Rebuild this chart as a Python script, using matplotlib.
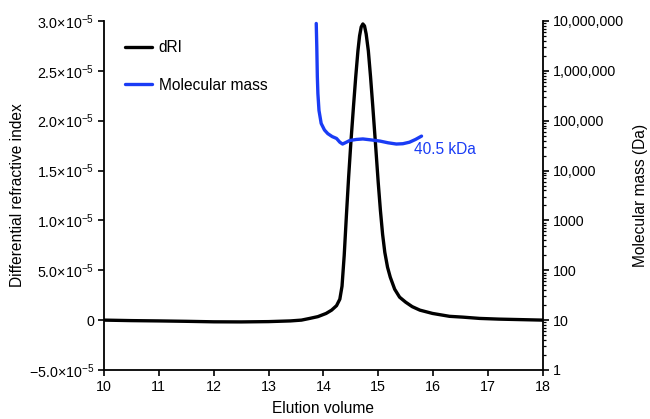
import matplotlib
matplotlib.use("Agg")
import matplotlib.pyplot as plt
from matplotlib.ticker import LogLocator, NullFormatter

plt.rcParams['font.family'] = ['Liberation Sans', 'DejaVu Sans']
plt.rcParams['mathtext.fontset'] = 'custom'
plt.rcParams['mathtext.rm'] = 'Liberation Sans'
plt.rcParams['mathtext.it'] = 'Liberation Sans'

# dRI trace (elution volume, differential refractive index)
dri_x = [10.0, 10.5, 11.0, 11.5, 12.0, 12.5, 13.0, 13.4, 13.6, 13.75, 13.9, 14.05,
         14.15, 14.24, 14.30, 14.34, 14.38, 14.42, 14.46, 14.50, 14.55, 14.59, 14.63,
         14.66, 14.69, 14.72, 14.75, 14.78, 14.82, 14.86, 14.90, 14.95, 15.00, 15.04,
         15.08, 15.12, 15.17, 15.22, 15.30, 15.39, 15.50, 15.62, 15.76, 15.99, 16.30,
         16.54, 16.85, 17.2, 17.6, 18.0]
dri_y = [0.0, -0.05e-6, -0.08e-6, -0.12e-6, -0.17e-6, -0.18e-6, -0.15e-6, -0.08e-6,
         0.0, 0.17e-6, 0.35e-6, 0.67e-6, 1.0e-6, 1.45e-6, 2.1e-6, 3.4e-6, 6.5e-6,
         1.05e-5, 1.43e-5, 1.77e-5, 2.15e-5, 2.44e-5, 2.7e-5, 2.85e-5, 2.94e-5,
         2.97e-5, 2.95e-5, 2.87e-5, 2.7e-5, 2.44e-5, 2.15e-5, 1.77e-5, 1.38e-5, 1.1e-5,
         8.6e-6, 6.8e-6, 5.3e-6, 4.3e-6, 3.1e-6, 2.3e-6, 1.8e-6, 1.35e-6, 1.0e-6,
         0.67e-6, 0.38e-6, 0.3e-6, 0.17e-6, 0.1e-6, 0.05e-6, 0.0]

# molecular mass trace (Da)
mm_x = [13.87, 13.88, 13.89, 13.90, 13.92, 13.96, 14.02, 14.08, 14.16, 14.24, 14.30,
        14.35, 14.42, 14.48, 14.60, 14.72, 14.88, 15.03, 15.18, 15.33, 15.45, 15.57,
        15.68, 15.79]
mm_y = [8.9e6, 3.0e6, 7.6e5, 3.5e5, 1.6e5, 8.8e4, 6.5e4, 5.5e4, 4.8e4, 4.4e4, 3.7e4,
        3.4e4, 3.7e4, 4.0e4, 4.2e4, 4.3e4, 4.1e4, 3.9e4, 3.6e4, 3.4e4, 3.45e4, 3.7e4,
        4.2e4, 4.9e4]

left_ticks = [-5e-6, 0, 5e-6, 1e-5, 1.5e-5, 2e-5, 2.5e-5, 3e-5]
left_labels = ["\u22125.0\u00d710$^{-5}$", "0", "5.0\u00d710$^{-5}$", "1.0\u00d710$^{-5}$",
               "1.5\u00d710$^{-5}$", "2.0\u00d710$^{-5}$", "2.5\u00d710$^{-5}$",
               "3.0\u00d710$^{-5}$"]
right_ticks = [1, 10, 100, 1000, 1e4, 1e5, 1e6, 1e7]
right_labels = ["1", "10", "100", "1000", "10,000", "100,000", "1,000,000", "10,000,000"]

BLUE = "#1a3cf5"
TICK_FS = 10.3
LABEL_FS = 11.2

fig = plt.figure(figsize=(6.5, 4.19), dpi=100)
ax = fig.add_axes([0.16, 0.117, 0.675, 0.833])
ax2 = ax.twinx()

l1, = ax.plot(dri_x, dri_y, color="black", lw=2.4, label="dRI", solid_capstyle="round")
l2, = ax2.plot(mm_x, mm_y, color=BLUE, lw=2.4, label="Molecular mass", solid_capstyle="round")

ax.set_xlim(10, 18)
ax.set_ylim(-5e-6, 3e-5)
ax.set_xticks(range(10, 19))
ax.set_yticks(left_ticks)
ax.set_yticklabels(left_labels)
ax2.set_yscale("log")
ax2.set_ylim(1, 1e7)
ax2.set_yticks(right_ticks)
ax2.set_yticklabels(right_labels)
ax2.yaxis.set_minor_locator(LogLocator(base=10, subs=range(2, 10), numticks=20))
ax2.yaxis.set_minor_formatter(NullFormatter())

for a in (ax, ax2):
    a.spines['top'].set_visible(False)
    for s in a.spines.values():
        s.set_linewidth(1.3)
ax.spines['right'].set_visible(False)
ax2.spines['left'].set_visible(False)
ax2.spines['bottom'].set_visible(False)

ax.tick_params(axis='both', direction='out', length=4, width=1.2, labelsize=TICK_FS, pad=3)
ax2.tick_params(axis='y', which='major', direction='out', length=4, width=1.2,
                labelsize=TICK_FS, pad=3)
ax2.tick_params(axis='y', which='minor', direction='out', length=2, width=0.9)

ax.set_xlabel("Elution volume", fontsize=LABEL_FS, labelpad=5)
ax.set_ylabel("Differential refractive index", fontsize=LABEL_FS, labelpad=3)
ax2.set_ylabel("Molecular mass (Da)", fontsize=LABEL_FS, va="center")
ax2.yaxis.set_label_coords(1.222, 0.5)

ax2.text(15.66, 2.6e4, "40.5 kDa", color=BLUE, fontsize=LABEL_FS, ha="left", va="center")

ax.legend([l1, l2], ["dRI", "Molecular mass"], loc="upper left",
          bbox_to_anchor=(0.015, 0.985), frameon=False, fontsize=LABEL_FS,
          handlelength=1.75, handletextpad=0.45, labelspacing=1.45)

fig.savefig("out.png", dpi=100)
